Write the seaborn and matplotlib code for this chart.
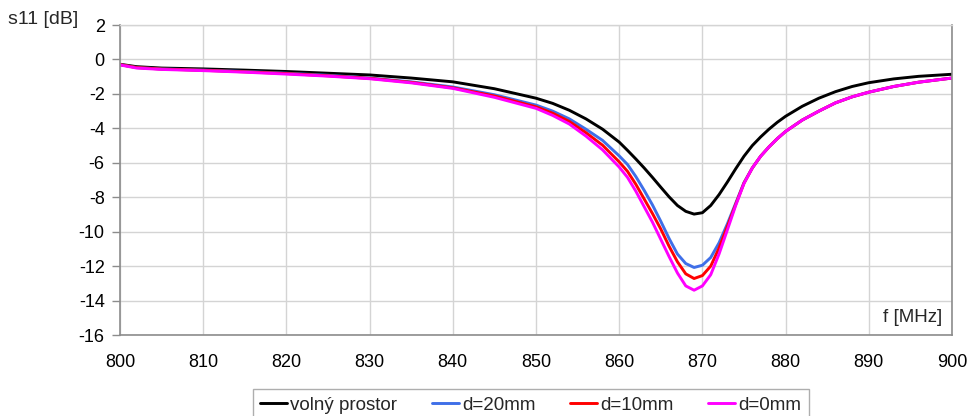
import numpy as np
import pandas as pd
import matplotlib
matplotlib.use("Agg")
import matplotlib.pyplot as plt
import seaborn as sns

# Frequency points [MHz]
freq = [800, 802, 805, 810, 815, 820, 825, 830, 835, 840, 845, 850, 852, 854, 856,
        858, 860, 861, 862, 863, 864, 865, 866, 867, 868, 869, 870, 871, 872, 873,
        874, 875, 876, 877, 878, 879, 880, 882, 884, 886, 888, 890, 893, 896, 900]

# s11 [dB] for each configuration
s11_free = [-0.28, -0.42, -0.50, -0.55, -0.62, -0.70, -0.80, -0.90, -1.08, -1.30,
            -1.70, -2.25, -2.55, -2.95, -3.45, -4.05, -4.80, -5.28, -5.78, -6.30,
            -6.85, -7.42, -7.98, -8.48, -8.82, -8.98, -8.90, -8.48, -7.85, -7.12,
            -6.35, -5.62, -5.00, -4.50, -4.05, -3.65, -3.30, -2.72, -2.25, -1.87,
            -1.57, -1.35, -1.13, -0.98, -0.86]
s11_d20 = [-0.30, -0.47, -0.55, -0.62, -0.70, -0.80, -0.92, -1.08, -1.30, -1.60,
           -2.05, -2.65, -3.00, -3.45, -4.05, -4.70, -5.60, -6.10, -6.80, -7.60,
           -8.45, -9.40, -10.40, -11.30, -11.85, -12.08, -11.95, -11.50, -10.65, -9.55,
           -8.35, -7.15, -6.30, -5.62, -5.08, -4.60, -4.18, -3.52, -3.00, -2.52,
           -2.17, -1.90, -1.57, -1.32, -1.08]
s11_d10 = [-0.30, -0.47, -0.56, -0.63, -0.72, -0.82, -0.95, -1.10, -1.33, -1.65,
           -2.12, -2.75, -3.12, -3.60, -4.25, -4.98, -5.95, -6.50, -7.25, -8.10,
           -8.95, -9.85, -10.85, -11.75, -12.45, -12.72, -12.55, -12.00, -10.95, -9.70,
           -8.42, -7.18, -6.30, -5.62, -5.08, -4.60, -4.18, -3.52, -3.00, -2.52,
           -2.17, -1.90, -1.57, -1.32, -1.08]
s11_d0 = [-0.32, -0.50, -0.58, -0.65, -0.74, -0.85, -0.97, -1.12, -1.36, -1.68,
          -2.20, -2.84, -3.25, -3.75, -4.45, -5.25, -6.25, -6.85, -7.65, -8.55,
          -9.45, -10.45, -11.45, -12.40, -13.15, -13.40, -13.15, -12.50, -11.30, -9.90,
          -8.48, -7.20, -6.30, -5.62, -5.08, -4.60, -4.18, -3.52, -3.00, -2.52,
          -2.17, -1.90, -1.57, -1.32, -1.08]

labels = ["volný prostor", "d=20mm", "d=10mm", "d=0mm"]
colors = ["#000000", "#3f6fe8", "#ff0000", "#ff00ff"]

df = pd.concat([
    pd.DataFrame({"f": freq, "s11": vals, "config": lab})
    for vals, lab in zip([s11_free, s11_d20, s11_d10, s11_d0], labels)
], ignore_index=True)

sns.set_theme(style="white")
plt.rcParams["font.family"] = ["Liberation Sans", "DejaVu Sans"]
plt.rcParams["axes.unicode_minus"] = False

fig = plt.figure(figsize=(9.7, 4.16), dpi=100)
ax = fig.add_axes([120 / 970, 1 - 335 / 416, 832 / 970, 310 / 416])

sns.lineplot(data=df, x="f", y="s11", hue="config", hue_order=labels,
             palette=dict(zip(labels, colors)), linewidth=2.1, ax=ax,
             legend=False, sort=False)

ax.set_xlim(800, 900)
ax.set_ylim(-16, 2)
ax.set_xticks(np.arange(800, 901, 10))
ax.set_yticks(np.arange(-16, 3, 2))
ax.grid(True, color="#d4d4d4", linewidth=1.0)
ax.set_axisbelow(True)
ax.set_xlabel("")
ax.set_ylabel("")

for side in ["left", "bottom", "right"]:
    ax.spines[side].set_color("#8c8c8c")
    ax.spines[side].set_linewidth(1.2)
ax.spines["top"].set_color("#d4d4d4")
ax.spines["top"].set_linewidth(1.0)

ax.tick_params(axis="y", which="major", left=True, length=6, width=1,
               color="#8c8c8c", labelsize=13, pad=5)
ax.tick_params(axis="x", which="major", bottom=True, length=0,
               labelsize=13, pad=14)
for lab in ax.get_xticklabels() + ax.get_yticklabels():
    lab.set_color("#000000")

fig.text(8 / 970, 1 - 20 / 416, "s11 [dB]", fontsize=14, va="center", ha="left")
ax.text(0.988, 0.055, "f [MHz]", transform=ax.transAxes, fontsize=13.5,
        ha="right", va="center")

handles = [plt.Line2D([], [], color=c, linewidth=2.1) for c in colors]
leg = fig.legend(handles, labels, loc="center",
                 bbox_to_anchor=(0.547, 1 - 405 / 416), ncol=4, frameon=True,
                 fancybox=False, edgecolor="#9a9a9a", fontsize=13.5,
                 handlelength=1.45, handletextpad=0.15, columnspacing=1.85,
                 borderpad=0.4, borderaxespad=0)
leg.get_frame().set_linewidth(1.0)

fig.savefig("out.png", dpi=100)
